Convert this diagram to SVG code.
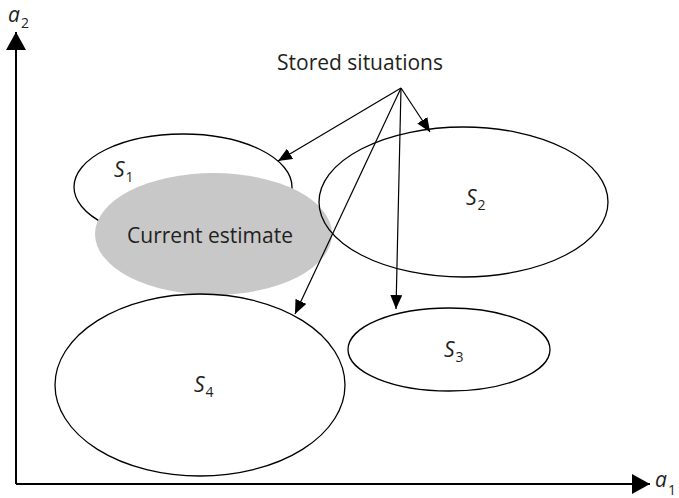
<svg xmlns="http://www.w3.org/2000/svg" width="679" height="498" viewBox="0 0 679 498">
<defs>
<marker id="ah" markerUnits="userSpaceOnUse" markerWidth="14" markerHeight="12" refX="14" refY="6" orient="auto">
<path d="M0,0 L14,6 L0,12 z" fill="#000"/>
</marker>
<marker id="axh" markerUnits="userSpaceOnUse" markerWidth="18" markerHeight="20" refX="18" refY="10" orient="auto">
<path d="M0,0 L18,10 L0,20 z" fill="#000"/>
</marker>
<style>
.el{fill:none;stroke:#000;stroke-width:1.3}
.gr{fill:#c8c8c8;stroke:none}
.t{font-family:"Open Sans","Noto Sans",sans-serif;font-size:21px;fill:#231f20}
.it{font-family:"Open Sans","Noto Sans",sans-serif;font-size:21px;font-style:italic;fill:#231f20}
.sub{font-family:"Open Sans","Noto Sans",sans-serif;font-size:14px;fill:#231f20}
.ln{stroke:#000;stroke-width:1.2;fill:none}
.ax{stroke:#000;stroke-width:2;fill:none}
</style>
</defs>
<g id="axes">
<path class="ax" d="M16,484 L16,32" marker-end="url(#axh)"/>
<path class="ax" d="M16,484 L650,484" marker-end="url(#axh)"/>
<text class="it" x="8" y="22">a<tspan class="sub" dx="1" dy="6" font-style="normal">2</tspan></text>
<text class="it" x="655" y="487">a<tspan class="sub" dx="1" dy="8" font-style="normal">1</tspan></text>
</g>
<g id="s1">
<ellipse class="el" cx="183" cy="187" rx="109" ry="53"/>
<text class="it" x="114" y="177">S<tspan class="sub" dx="1" dy="5" font-style="normal">1</tspan></text>
</g>
<g id="current">
<ellipse class="gr" cx="213.5" cy="234" rx="118.5" ry="61"/>
<text class="t" x="210" y="243" text-anchor="middle" font-size="24">Current estimate</text>
</g>
<g id="s2">
<ellipse class="el" cx="463.5" cy="202" rx="144.5" ry="75"/>
<text class="it" x="466" y="205">S<tspan class="sub" dx="1" dy="5" font-style="normal">2</tspan></text>
</g>
<g id="s3">
<ellipse class="el" cx="449" cy="349.5" rx="101" ry="41.5"/>
<text class="it" x="444" y="357">S<tspan class="sub" dx="1" dy="5" font-style="normal">3</tspan></text>
</g>
<g id="s4">
<ellipse class="el" cx="200" cy="385" rx="145" ry="91"/>
<text class="it" x="194" y="392">S<tspan class="sub" dx="1" dy="5" font-style="normal">4</tspan></text>
</g>
<g id="label">
<text class="t" x="360" y="70" text-anchor="middle">Stored situations</text>
</g>
<g id="connectors">
<path class="ln" d="M401,88 L278,161" marker-end="url(#ah)"/>
<path class="ln" d="M401,88 L430,132" marker-end="url(#ah)"/>
<path class="ln" d="M401,88 L295,314" marker-end="url(#ah)"/>
<path class="ln" d="M401,88 L396,309" marker-end="url(#ah)"/>
</g>
</svg>
